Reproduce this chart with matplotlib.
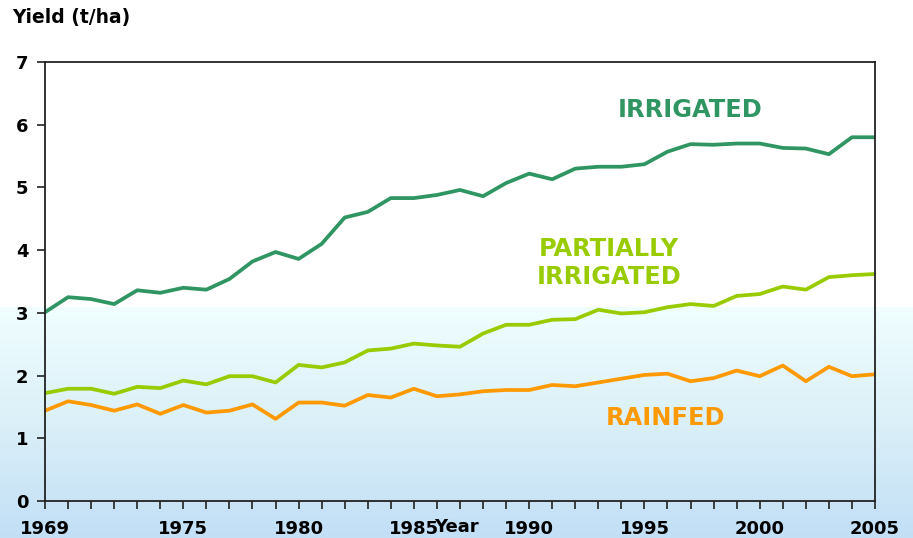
import numpy as np
import matplotlib
matplotlib.use("Agg")
import matplotlib.pyplot as plt
from matplotlib.colors import LinearSegmentedColormap

plt.rcParams['font.family'] = ['DejaVu Sans']
plt.rcParams['font.weight'] = 'bold'

# data
years = list(range(1969, 2006))
irrigated = [3.01, 3.25, 3.22, 3.14, 3.36, 3.32, 3.40, 3.37, 3.54, 3.82,
             3.97, 3.86, 4.10, 4.52, 4.61, 4.83, 4.83, 4.88, 4.96, 4.86,
             5.07, 5.22, 5.13, 5.30, 5.33, 5.33, 5.37, 5.57, 5.69, 5.68,
             5.70, 5.70, 5.63, 5.62, 5.53, 5.80, 5.80]
partial = [1.72, 1.79, 1.79, 1.71, 1.82, 1.80, 1.92, 1.86, 1.99, 1.99,
           1.89, 2.17, 2.13, 2.21, 2.40, 2.43, 2.51, 2.48, 2.46, 2.67,
           2.81, 2.81, 2.89, 2.90, 3.05, 2.99, 3.01, 3.09, 3.14, 3.11,
           3.27, 3.30, 3.42, 3.37, 3.57, 3.60, 3.62]
rainfed = [1.44, 1.59, 1.53, 1.44, 1.54, 1.39, 1.53, 1.41, 1.44, 1.54,
           1.31, 1.57, 1.57, 1.52, 1.69, 1.65, 1.79, 1.67, 1.70, 1.75,
           1.77, 1.77, 1.85, 1.83, 1.89, 1.95, 2.01, 2.03, 1.91, 1.96,
           2.08, 1.99, 2.16, 1.91, 2.14, 1.99, 2.02]
xtick_years = [1969, 1975, 1980, 1985, 1990, 1995, 2000, 2005]

c_irr = '#2e9563'
c_par = '#99cc00'
c_rain = '#ff9900'

fig = plt.figure(figsize=(9.13, 5.38), dpi=100)

# light blue gradient band across the lower part of the figure
bg = fig.add_axes([0, 0, 1, 0.4294], zorder=0)
grad = np.linspace(0, 1, 256).reshape(-1, 1)
cmap = LinearSegmentedColormap.from_list('bg', ['#f0feff', '#dbf0f8', '#c2dff6'])
bg.imshow(grad, aspect='auto', cmap=cmap, origin='upper', extent=[0, 1, 0, 1])
bg.axis('off')

ax = fig.add_axes([45 / 913, 1 - 501 / 538, 830 / 913, 439 / 538], zorder=1)
ax.patch.set_alpha(0)

ax.plot(years, irrigated, color=c_irr, lw=2.7, solid_joinstyle='round')
ax.plot(years, partial, color=c_par, lw=2.7, solid_joinstyle='round')
ax.plot(years, rainfed, color=c_rain, lw=2.7, solid_joinstyle='round')

ax.set_xlim(1969, 2005)
ax.set_ylim(0, 7)
ax.set_xticks(xtick_years)
ax.set_xticks(years, minor=True)
ax.set_yticks(range(0, 8))
ax.tick_params(axis='both', which='both', direction='out', length=6, width=1.2,
               labelsize=13, color='#222222')
ax.tick_params(axis='x', which='major', pad=8)
ax.tick_params(axis='y', which='major', pad=6)
for s in ax.spines.values():
    s.set_linewidth(1.3)
    s.set_color('#222222')

ax.text(1997.0, 6.24, 'IRRIGATED', color=c_irr, fontsize=17.4, fontweight='bold',
        ha='center', va='center')
ax.text(1993.45, 3.80, 'PARTIALLY\nIRRIGATED', color=c_par, fontsize=17.4,
        fontweight='bold', ha='center', va='center', linespacing=1.2)
ax.text(1995.9, 1.32, 'RAINFED', color=c_rain, fontsize=17.4, fontweight='bold',
        ha='center', va='center')

fig.text(12 / 913, 1 - 17 / 538, 'Yield (t/ha)', fontsize=13.5, fontweight='bold',
         ha='left', va='center')
fig.text(434 / 913, 1 - 527 / 538, 'Year', fontsize=13, fontweight='bold',
         ha='left', va='center')

fig.savefig('out.png', dpi=100)
